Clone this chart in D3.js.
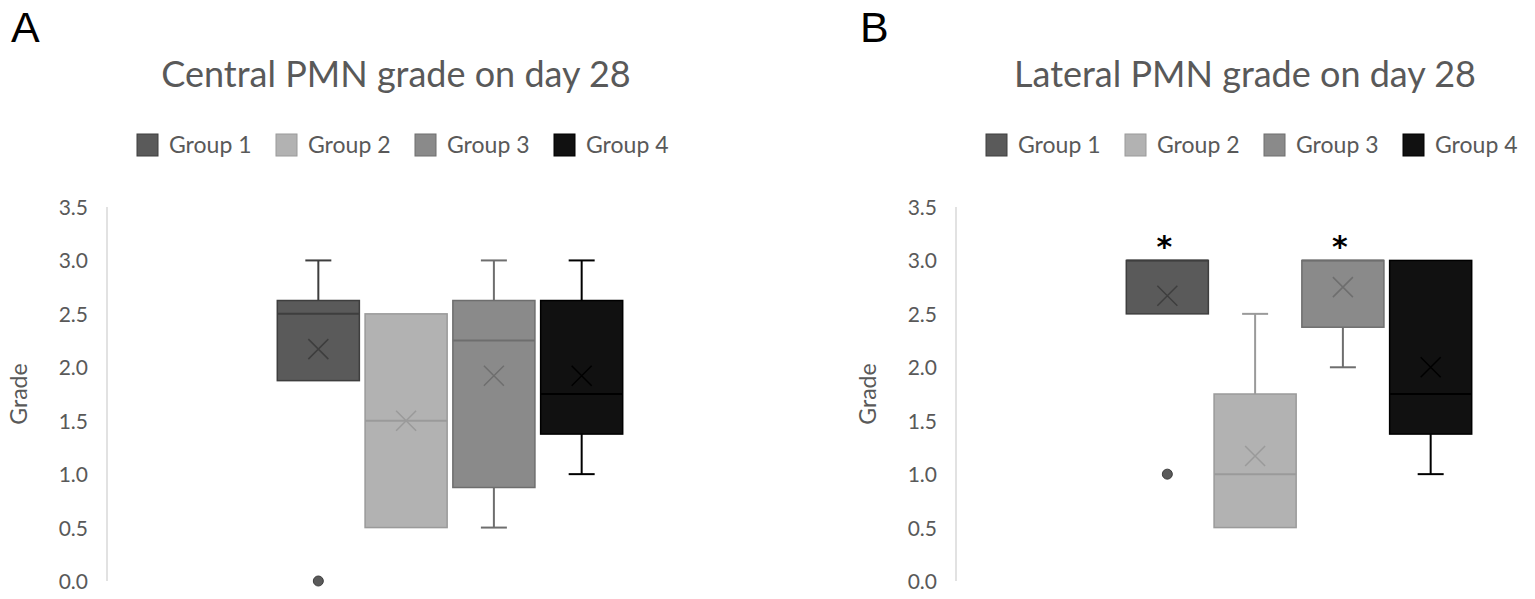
<!DOCTYPE html>
<html>
<head>
<meta charset="utf-8">
<script src="https://cdn.jsdelivr.net/npm/d3@7"></script>
<style>
  body { margin: 0; background: #fff; }
  text { font-family: Lato, "Open Sans", sans-serif; }
</style>
</head>
<body>
<div id="chart"></div>
<script>
// groups and ticks
var groups = ["Group 1", "Group 2", "Group 3", "Group 4"];
var fills = ["#5a5a5a", "#b2b2b2", "#8a8a8a", "#111111"];
var strokes = ["#3e3e3e", "#9a9a9a", "#6e6e6e", "#000000"];
var yTicks = [0, 0.5, 1, 1.5, 2, 2.5, 3, 3.5];

// panel A - central
var centralMin = [1.875, 0.5, 0.5, 1.0];
var centralQ1 = [1.875, 0.5, 0.875, 1.375];
var centralMedian = [2.5, 1.5, 2.25, 1.75];
var centralQ3 = [2.625, 2.5, 2.625, 2.625];
var centralMax = [3.0, 2.5, 3.0, 3.0];
var centralMean = [2.17, 1.5, 1.92, 1.92];
var centralOutliers = [[0.0], [], [], []];
var centralStars = [false, false, false, false];

// panel B - lateral
var lateralMin = [2.5, 0.5, 2.0, 1.0];
var lateralQ1 = [2.5, 0.5, 2.375, 1.375];
var lateralMedian = [3.0, 1.0, 3.0, 1.75];
var lateralQ3 = [3.0, 1.75, 3.0, 3.0];
var lateralMax = [3.0, 2.5, 3.0, 3.0];
var lateralMean = [2.67, 1.17, 2.75, 2.0];
var lateralOutliers = [[1.0], [], [], []];
var lateralStars = [true, false, true, false];

var W = 1535, H = 599;
var svg = d3.select("#chart").append("svg")
        .attr("width", W)
        .attr("height", H);

function drawPanel(ox, letter, title, stats) {

        var g = svg.append("g").attr("transform", "translate(" + ox + ",0)");

        var y = d3.scaleLinear().domain([0, 3.5]).range([581, 207]);
        var x = d3.scaleBand().domain(groups).range([107, 793])
                .paddingInner(0.065).paddingOuter(1.94);
        var bw = x.bandwidth();

        g.append("text")
                .attr("x", 11).attr("y", 42)
                .style("font-family", "'Liberation Sans', sans-serif")
                .style("font-size", "43px")
                .attr("fill", "#000")
                .text(letter);

        g.append("text")
                .attr("x", 396).attr("y", 87)
                .attr("text-anchor", "middle")
                .style("font-size", "36px")
                .attr("fill", "#595959")
                .text(title);

        // legend
        var leg = g.append("g").attr("class", "legend");
        groups.forEach(function(name, i) {
                var lx = 137 + i * 139;
                leg.append("rect")
                        .attr("x", lx).attr("y", 134)
                        .attr("width", 21).attr("height", 22)
                        .attr("fill", fills[i])
                        .attr("stroke", strokes[i])
                        .attr("stroke-width", 1);
                leg.append("text")
                        .attr("x", lx + 32).attr("y", 153)
                        .style("font-size", "23px")
                        .attr("fill", "#595959")
                        .text(name);
        });

        // y axis
        g.append("line")
                .attr("x1", 107).attr("x2", 107)
                .attr("y1", y(3.5)).attr("y2", y(0))
                .style("stroke", "#d9d9d9")
                .style("stroke-width", "1.5px");

        g.selectAll(".tick")
                .data(yTicks)
                .enter().append("text")
                .attr("class", "tick")
                .attr("x", 88)
                .attr("y", (d) => y(d) + 8)
                .attr("text-anchor", "end")
                .style("font-size", "21px")
                .attr("fill", "#595959")
                .text((d) => d.toFixed(1));

        g.append("text")
                .attr("transform", "translate(27," + y(1.75) + ") rotate(-90)")
                .attr("text-anchor", "middle")
                .style("font-size", "23px")
                .attr("fill", "#595959")
                .text("Grade");

        groups.forEach(function(name, i) {
                var x0 = x(name);
                var cx = x0 + bw / 2;
                var cap = 13;

                // whiskers
                [[stats.max[i], stats.q3[i]], [stats.min[i], stats.q1[i]]].forEach(function(w) {
                        if (w[0] === w[1]) return;
                        g.append("line")
                                .attr("x1", cx).attr("x2", cx)
                                .attr("y1", y(w[0])).attr("y2", y(w[1]))
                                .style("stroke", strokes[i]).style("stroke-width", "2px");
                        g.append("line")
                                .attr("x1", cx - cap).attr("x2", cx + cap)
                                .attr("y1", y(w[0])).attr("y2", y(w[0]))
                                .style("stroke", strokes[i]).style("stroke-width", "2px");
                });

                g.append("rect")
                        .attr("x", x0).attr("y", y(stats.q3[i]))
                        .attr("width", bw)
                        .attr("height", y(stats.q1[i]) - y(stats.q3[i]))
                        .attr("fill", fills[i])
                        .attr("stroke", strokes[i])
                        .attr("stroke-width", 1.5);

                g.append("line")
                        .attr("x1", x0).attr("x2", x0 + bw)
                        .attr("y1", y(stats.median[i])).attr("y2", y(stats.median[i]))
                        .style("stroke", strokes[i]).style("stroke-width", "2px");

                // mean marker
                var my = y(stats.mean[i]), r = 10;
                g.append("path")
                        .attr("d", "M" + (cx - r) + "," + (my - r) + "L" + (cx + r) + "," + (my + r) +
                                "M" + (cx - r) + "," + (my + r) + "L" + (cx + r) + "," + (my - r))
                        .style("stroke", strokes[i]).style("stroke-width", "1.5px")
                        .style("fill", "none");

                stats.outliers[i].forEach(function(v) {
                        g.append("circle")
                                .attr("cx", cx).attr("cy", y(v)).attr("r", 5)
                                .attr("fill", fills[i])
                                .attr("stroke", strokes[i]);
                });

                if (stats.stars[i]) {
                        g.append("text")
                                .attr("x", cx - 3).attr("y", y(3.0) - 3)
                                .attr("text-anchor", "middle")
                                .style("font-family", "'DejaVu Sans', sans-serif")
                                .style("font-weight", "bold")
                                .style("font-size", "30px")
                                .attr("fill", "#000")
                                .text("*");
                }
        });
}

drawPanel(0, "A", "Central PMN grade on day 28", {
        min: centralMin, q1: centralQ1, median: centralMedian, q3: centralQ3,
        max: centralMax, mean: centralMean, outliers: centralOutliers, stars: centralStars
});
drawPanel(849, "B", "Lateral PMN grade on day 28", {
        min: lateralMin, q1: lateralQ1, median: lateralMedian, q3: lateralQ3,
        max: lateralMax, mean: lateralMean, outliers: lateralOutliers, stars: lateralStars
});
</script>
</body>
</html>
